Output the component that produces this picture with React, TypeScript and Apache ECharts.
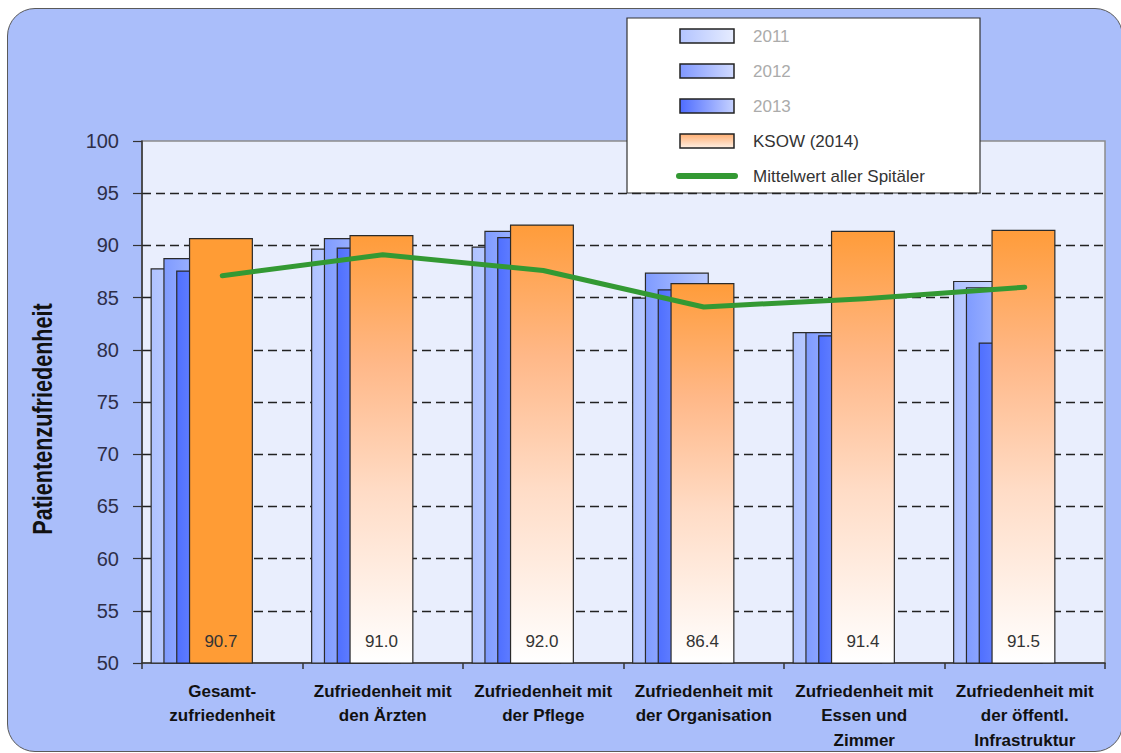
import React, { useEffect, useRef } from 'react';
import * as echarts from 'echarts';

const categories = [
  'Gesamt-\nzufriedenheit',
  'Zufriedenheit mit\nden Ärzten',
  'Zufriedenheit mit\nder Pflege',
  'Zufriedenheit mit\nder Organisation',
  'Zufriedenheit mit\nEssen und\nZimmer',
  'Zufriedenheit mit\nder öffentl.\nInfrastruktur',
];
const barNames = ['2011', '2012', '2013', 'KSOW (2014)'];
const values2011 = [87.8, 89.7, 89.9, 85.0, 81.7, 86.6];
const values2012 = [88.8, 90.7, 91.4, 87.4, 81.7, 86.0];
const values2013 = [87.6, 89.8, 90.8, 85.8, 81.4, 80.7];
const valuesKSOW = [90.7, 91.0, 92.0, 86.4, 91.4, 91.5];
const meanName = 'Mittelwert aller Spitäler';
const meanValues = [87.1, 89.1, 87.6, 84.1, 84.9, 86.0];
const yAxisTitle = 'Patientenzufriedenheit';
const yMin = 50;
const yMax = 100;
const yStep = 5;

const FONT = '"Liberation Sans", Arial, sans-serif';

const hGrad = (a: string, b: string) =>
  new echarts.graphic.LinearGradient(0, 0, 1, 0, [
    { offset: 0, color: a },
    { offset: 1, color: b },
  ]);
const orangeGrad = () =>
  new echarts.graphic.LinearGradient(0, 0, 0, 1, [
    { offset: 0, color: '#FF9C3A' },
    { offset: 0.3, color: '#FFB888' },
    { offset: 0.6, color: '#FFDCC6' },
    { offset: 1, color: '#FFFFFF' },
  ]);

const blueFills = [
  ['#AFC2FF', '#D6E0FF'],
  ['#7F9BFF', '#B9C9FF'],
  ['#4F6FFF', '#98AEFF'],
];

export default function App() {
  const ref = useRef<HTMLDivElement>(null);
  useEffect(() => {
    if (!ref.current) return;
    const chart = echarts.init(ref.current, null, { renderer: 'svg' });
    const blueData = [values2011, values2012, values2013];
    const barCommon = {
      type: 'bar',
      xAxisIndex: 1,
      yAxisIndex: 1,
      barWidth: 64,
      barGap: '-80%',
    };
    const series: any[] = blueData.map((d, i) => ({
      ...barCommon,
      name: barNames[i],
      data: d,
      itemStyle: {
        color: hGrad(blueFills[i][0], blueFills[i][1]),
        borderColor: '#2a2a2a',
        borderWidth: 1.2,
      },
      z: 2,
    }));
    series.push({
      ...barCommon,
      name: barNames[3],
      data: valuesKSOW.map((v, i) => ({
        value: v,
        itemStyle: { color: i === 0 ? '#FF9C35' : orangeGrad() },
      })),
      itemStyle: { borderColor: '#2a2a2a', borderWidth: 1.2 },
      label: {
        show: true,
        position: 'insideBottom',
        distance: 14,
        fontSize: 17,
        fontFamily: FONT,
        color: '#333',
        formatter: (p: any) => Number(p.value).toFixed(1),
      },
      z: 3,
    });
    series.push({
      type: 'line',
      name: meanName,
      xAxisIndex: 0,
      yAxisIndex: 0,
      data: meanValues,
      showSymbol: false,
      symbol: 'none',
      lineStyle: { color: '#339933', width: 5, cap: 'round', join: 'round' },
      itemStyle: { color: '#339933' },
      z: 10,
    });

    const legendX = 627;
    const legendY = 18;
    const rowY = [36, 71, 106, 141, 176];
    const legendFills = [
      hGrad('#B3C4FF', '#E6ECFF'),
      hGrad('#8098FF', '#D0DAFF'),
      hGrad('#4E6CFF', '#C6D2FF'),
      new echarts.graphic.LinearGradient(0, 0, 0, 1, [
        { offset: 0, color: '#FFAE72' },
        { offset: 1, color: '#FFF0E4' },
      ]),
    ];
    const legendChildren: any[] = [
      {
        type: 'rect',
        shape: { x: legendX, y: legendY, width: 353, height: 175 },
        style: { fill: '#ffffff', stroke: '#333', lineWidth: 1.2 },
      },
    ];
    barNames.forEach((n, i) => {
      legendChildren.push({
        type: 'rect',
        shape: { x: 680, y: rowY[i] - 7, width: 54, height: 14 },
        style: { fill: legendFills[i], stroke: '#222', lineWidth: 1.5 },
      });
      legendChildren.push({
        type: 'text',
        x: 753,
        y: rowY[i],
        style: {
          text: n,
          fontSize: 17,
          fontFamily: FONT,
          fill: i < 3 ? '#ABABAB' : '#333',
          verticalAlign: 'middle',
          align: 'left',
        },
      });
    });
    legendChildren.push({
      type: 'line',
      shape: { x1: 679, y1: rowY[4], x2: 735, y2: rowY[4] },
      style: { stroke: '#339933', lineWidth: 6, lineCap: 'round' },
    });
    legendChildren.push({
      type: 'text',
      x: 753,
      y: rowY[4],
      style: {
        text: meanName,
        fontSize: 17,
        fontFamily: FONT,
        fill: '#333',
        verticalAlign: 'middle',
        align: 'left',
      },
    });

    const yAxisCommon = { type: 'value', min: yMin, max: yMax, interval: yStep };
    chart.setOption({
      animation: false,
      backgroundColor: 'transparent',
      grid: [
        {
          left: 142,
          right: 16,
          top: 141,
          bottom: 90,
          show: true,
          backgroundColor: '#E9EEFD',
          borderColor: '#8c8c8c',
          borderWidth: 1.5,
        },
        { left: 121.5, right: 36.5, top: 141, bottom: 90, show: false },
      ],
      xAxis: [
        {
          type: 'category',
          gridIndex: 0,
          data: categories,
          boundaryGap: true,
          axisLine: { show: true, lineStyle: { color: '#333', width: 1.5 } },
          axisTick: { show: true, length: 6, interval: 0, lineStyle: { color: '#333', width: 1.5 } },
          axisLabel: {
            interval: 0,
            fontSize: 17,
            fontWeight: 'bold',
            fontFamily: FONT,
            color: '#111',
            lineHeight: 24.5,
            margin: 16,
          },
          splitLine: { show: false },
        },
        { type: 'category', gridIndex: 1, data: categories, show: false },
      ],
      yAxis: [
        {
          ...yAxisCommon,
          gridIndex: 0,
          axisLine: { show: true, lineStyle: { color: '#333', width: 1.5 } },
          axisTick: { show: true, length: 9, lineStyle: { color: '#333', width: 1.2 } },
          axisLabel: { fontSize: 20, fontFamily: FONT, color: '#2e2e48', margin: 23 },
          splitLine: {
            show: true,
            showMinLine: false,
            showMaxLine: false,
            lineStyle: { color: '#222', width: 1.3, type: [9, 5] },
          },
        },
        { ...yAxisCommon, gridIndex: 1, show: false, splitLine: { show: false } },
      ],
      series,
      graphic: [
        {
          type: 'text',
          x: 43,
          y: 419,
          rotation: Math.PI / 2,
          scaleX: 0.8,
          z: 50,
          style: {
            text: yAxisTitle,
            fontSize: 27,
            fontWeight: 'bold',
            fontFamily: FONT,
            fill: '#111',
            align: 'center',
            verticalAlign: 'middle',
          },
        },
        { type: 'group', z: 100, children: legendChildren },
      ],
    });
    return () => chart.dispose();
  }, []);

  return (
    <div
      style={{
        position: 'fixed',
        left: 0,
        top: 0,
        width: 1121,
        height: 753,
        background: '#ffffff',
        overflow: 'hidden',
      }}
    >
      <div
        style={{
          position: 'absolute',
          left: 7,
          top: 8,
          width: 1116,
          height: 744,
          borderRadius: 28,
          background: '#AABEFA',
          border: '1.5px solid #5a5a5a',
          boxSizing: 'border-box',
        }}
      />
      <div ref={ref} style={{ position: 'absolute', left: 0, top: 0, width: 1121, height: 753 }} />
    </div>
  );
}
